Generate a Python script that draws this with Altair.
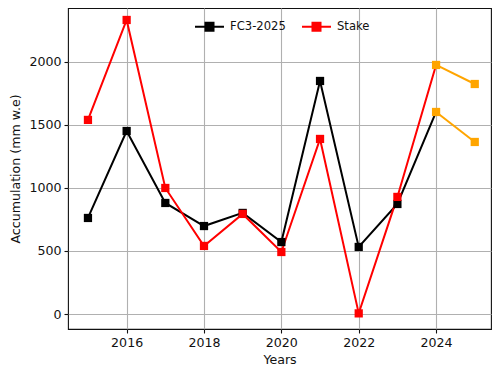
import altair as alt
import pandas as pd

years = [2015, 2016, 2017, 2018, 2019, 2020, 2021, 2022, 2023, 2024, 2025]
fc3 = [762, 1452, 881, 698, 802, 571, 1849, 532, 873, 1603, 1365]
stake = [1540, 2333, 1000, 540, 794, 492, 1389, 5, 929, 1976, 1825]
series_names = ["FC3-2025", "Stake"]
series_colors = ["black", "red"]
future_color = "orange"
last_obs_year = 2024

rows = []
for name, vals in zip(series_names, [fc3, stake]):
    for y, v in zip(years, vals):
        rows.append({"year": y, "value": v, "series": name})
df = pd.DataFrame(rows)

main = df[df.year <= last_obs_year]
future = df[df.year >= last_obs_year]
main_pts = df[df.year < last_obs_year]

x = alt.X("year:Q", scale=alt.Scale(domain=[2014.484, 2025.42], nice=False, zero=False),
          axis=alt.Axis(values=[2016, 2018, 2020, 2022, 2024], format="d", title="Years"))
y = alt.Y("value:Q", scale=alt.Scale(domain=[-119, 2428], nice=False, zero=False),
          axis=alt.Axis(values=[0, 500, 1000, 1500, 2000], format="d", title="Accumulation (mm w.e)"))
color = alt.Color("series:N", scale=alt.Scale(domain=series_names, range=series_colors),
                  legend=alt.Legend(orient="none", legendX=129, legendY=6, direction="horizontal",
                                    title=None, labelFontSize=11.6, labelFont="DejaVu Sans",
                                    symbolType="M-1.3,0 L1.3,0 M-0.36,-0.36 L0.36,-0.36 L0.36,0.36 L-0.36,0.36 Z",
                                    symbolSize=497, symbolStrokeWidth=2, columnPadding=12,
                                    labelOffset=8, labelColor="#111"))

lines = alt.Chart(main).mark_line(strokeWidth=2).encode(x=x, y=y, color=color, detail="series:N")
pts = alt.Chart(main_pts).mark_square(size=68, opacity=1, filled=True).encode(x=x, y=y, color=color)
flines = alt.Chart(future).mark_line(strokeWidth=2, color=future_color).encode(x=x, y=y, detail="series:N")
fpts = alt.Chart(future).mark_square(size=68, opacity=1, filled=True, color=future_color).encode(x=x, y=y, detail="series:N")

chart = alt.layer(lines, flines, pts, fpts).properties(
    width=423, height=321,
    autosize=alt.AutoSizeParams(type="none"),
    padding={"left": 60, "top": 0, "right": 1, "bottom": 38},
).configure_view(stroke="#111", strokeWidth=1.1).configure_axis(
    grid=True, gridColor="#b0b0b0", gridWidth=1.1, domain=False,
    tickColor="#111", tickSize=4, tickWidth=1.1,
    labelFont="DejaVu Sans", labelFontSize=12.6, labelColor="#111", labelPadding=3,
    titleFont="DejaVu Sans", titleFontSize=12.6, titleColor="#111", titleFontWeight="normal",
).configure_axisX(titlePadding=5).configure_axisY(titlePadding=6)

chart.save("out.html", embed_options={"renderer": "svg", "actions": False})
